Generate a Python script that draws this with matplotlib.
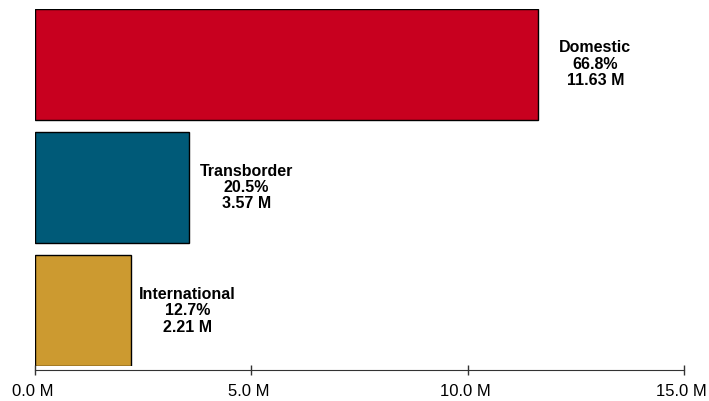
import numpy as np
import matplotlib.pyplot as plt
from matplotlib.transforms import ScaledTranslation

plt.rcParams['font.family'] = ['Liberation Sans', 'DejaVu Sans']

categories = ['International', 'Transborder', 'Domestic']
shares = [12.7, 20.5, 66.8]
values = [2.21, 3.57, 11.63]
colors = ['#CC9A30', '#005A78', '#C8001F']

fig = plt.figure(figsize=(7.09, 4.01), dpi=100)
ax = fig.add_axes([0.0494, 0.0873, 0.9153, 0.8903])

# axis line sits a few px below the bars
for side in ['left', 'right', 'top']:
    ax.spines[side].set_visible(False)
ax.spines['bottom'].set_color('#333333')
ax.spines['bottom'].set_position(('outward', 3))

y = np.arange(len(categories))
ax.barh(y, values, height=0.9, color=colors, edgecolor='black', linewidth=1)

for yi, cat, s, v in zip(y, categories, shares, values):
    ax.text(v + 1.32, yi, '%s\n%.1f%%\n%.2f M' % (cat, s, v),
            ha='center', va='center', fontsize=11.5, fontweight='bold',
            multialignment='center', linespacing=1.12)

ax.set_xlim(0, 15)
ax.set_ylim(-0.45, 2.45)
ax.set_xticks([0, 5, 10, 15])
ax.set_xticklabels(['%.1f M' % t for t in [0, 5, 10, 15]], fontsize=12)
ax.set_yticks([])
ax.tick_params(axis='x', direction='inout', length=7.5, width=1,
               color='#333333', pad=6)

# labels in the original sit a touch left of their ticks
shift = ScaledTranslation(-2.5 / 100, 0, fig.dpi_scale_trans)
for lbl in ax.get_xticklabels():
    lbl.set_transform(lbl.get_transform() + shift)

fig.savefig('out.png', dpi=100)
